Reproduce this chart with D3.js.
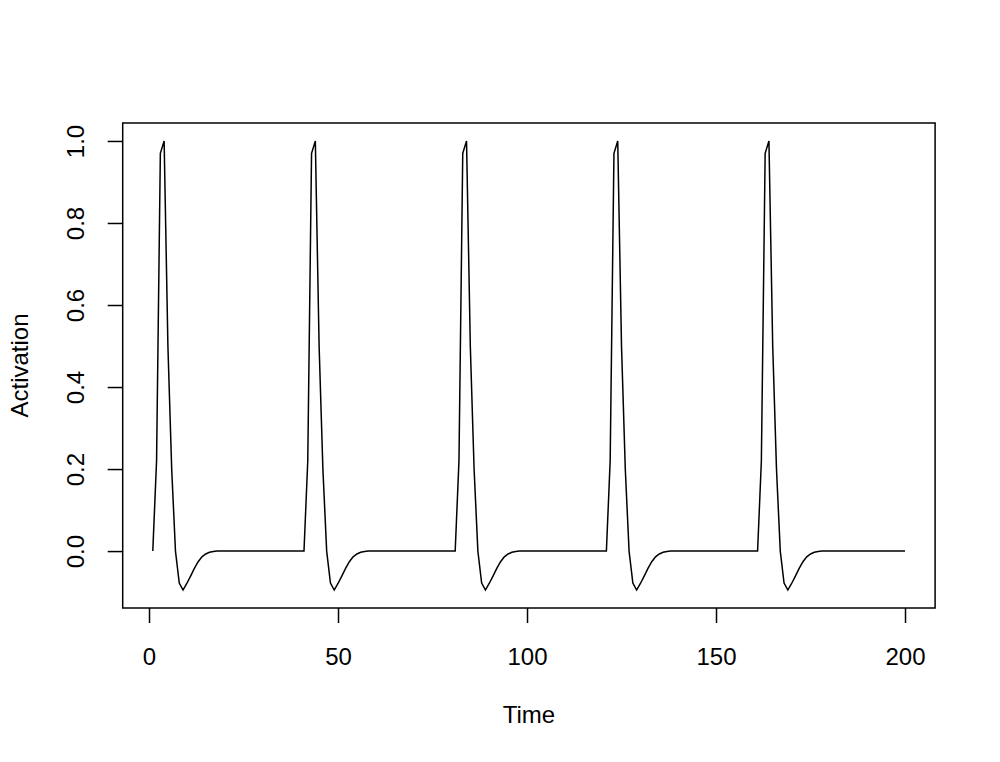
<!DOCTYPE html>
<html lang="en">
	<head>
		<meta charset="UTF-8" />
		<title>Activation over Time</title>
		<script src="https://d3js.org/d3.v7.min.js"></script>
		<style>
			body { margin: 0; background: #fff; }
			text { font-family: "Liberation Sans", Arial, sans-serif; fill: #000; }
		</style>
	</head>
	<body>
		<script>
			var w = 1000;
			var h = 762;

			// time steps 1..200
			var time = d3.range(1, 201);

			// activation, one row per 40-step cycle
			var activation = [
				0, 0.22, 0.97, 1.0, 0.5, 0.2, 0.0, -0.078, -0.095, -0.079, -0.061, -0.042, -0.026, -0.014, -0.007, -0.003, -0.001, 0, 0, 0,
				0, 0, 0, 0, 0, 0, 0, 0, 0, 0, 0, 0, 0, 0, 0, 0, 0, 0, 0, 0,
				0, 0.22, 0.97, 1.0, 0.5, 0.2, 0.0, -0.078, -0.095, -0.079, -0.061, -0.042, -0.026, -0.014, -0.007, -0.003, -0.001, 0, 0, 0,
				0, 0, 0, 0, 0, 0, 0, 0, 0, 0, 0, 0, 0, 0, 0, 0, 0, 0, 0, 0,
				0, 0.22, 0.97, 1.0, 0.5, 0.2, 0.0, -0.078, -0.095, -0.079, -0.061, -0.042, -0.026, -0.014, -0.007, -0.003, -0.001, 0, 0, 0,
				0, 0, 0, 0, 0, 0, 0, 0, 0, 0, 0, 0, 0, 0, 0, 0, 0, 0, 0, 0,
				0, 0.22, 0.97, 1.0, 0.5, 0.2, 0.0, -0.078, -0.095, -0.079, -0.061, -0.042, -0.026, -0.014, -0.007, -0.003, -0.001, 0, 0, 0,
				0, 0, 0, 0, 0, 0, 0, 0, 0, 0, 0, 0, 0, 0, 0, 0, 0, 0, 0, 0,
				0, 0.22, 0.97, 1.0, 0.5, 0.2, 0.0, -0.078, -0.095, -0.079, -0.061, -0.042, -0.026, -0.014, -0.007, -0.003, -0.001, 0, 0, 0,
				0, 0, 0, 0, 0, 0, 0, 0, 0, 0, 0, 0, 0, 0, 0, 0, 0, 0, 0, 0
			];

			var xTicks = [0, 50, 100, 150, 200];
			var yTicks = [0, 0.2, 0.4, 0.6, 0.8, 1.0];
			var xLabel = "Time";
			var yLabel = "Activation";

			// plot region (pixels)
			var plotL = 122.7, plotR = 935.1, plotT = 123, plotB = 608;

			// R-style 4% padding around the data range
			var xExt = d3.extent(time);
			var yExt = d3.extent(activation);
			var xPad = (xExt[1] - xExt[0]) * 0.04;
			var yPad = (yExt[1] - yExt[0]) * 0.04;

			var xScale = d3.scaleLinear()
				.domain([xExt[0] - xPad, xExt[1] + xPad])
				.range([plotL, plotR]);

			var yScale = d3.scaleLinear()
				.domain([yExt[0] - yPad, yExt[1] + yPad])
				.range([plotB, plotT]);

			var svg = d3.select("body")
				.append("svg")
				.attr("width", w)
				.attr("height", h);

			svg.append("rect")
				.attr("width", w)
				.attr("height", h)
				.attr("fill", "#fff");

			// data line
			var line = d3.line()
				.x(function (d, i) { return xScale(time[i]); })
				.y(function (d) { return yScale(d); });

			svg.append("path")
				.datum(activation)
				.attr("d", line)
				.attr("fill", "none")
				.attr("stroke", "#000")
				.attr("stroke-width", 1.5)
				.attr("stroke-linejoin", "miter");

			// box
			svg.append("rect")
				.attr("x", plotL)
				.attr("y", plotT)
				.attr("width", plotR - plotL)
				.attr("height", plotB - plotT)
				.attr("fill", "none")
				.attr("stroke", "#000")
				.attr("stroke-width", 1.5);

			// x axis
			var xAxis = d3.axisBottom(xScale)
				.tickValues(xTicks)
				.tickSize(15)
				.tickPadding(25)
				.tickFormat(d3.format("d"));

			var gx = svg.append("g")
				.attr("transform", "translate(0," + plotB + ")")
				.call(xAxis);
			gx.select(".domain").remove();
			gx.selectAll("line").attr("stroke", "#000").attr("stroke-width", 1.5);
			gx.selectAll("text")
				.attr("font-size", "24px")
				.attr("font-family", "Liberation Sans, Arial, sans-serif")
				.attr("fill", "#000");

			// y axis, labels rotated like R
			var yAxis = d3.axisLeft(yScale)
				.tickValues(yTicks)
				.tickSize(15)
				.tickFormat(d3.format(".1f"));

			var gy = svg.append("g")
				.attr("transform", "translate(" + plotL + ",0)")
				.call(yAxis);
			gy.select(".domain").remove();
			gy.selectAll("line").attr("stroke", "#000").attr("stroke-width", 1.5);
			gy.selectAll("text")
				.attr("x", null)
				.attr("dy", null)
				.attr("font-size", "24px")
				.attr("font-family", "Liberation Sans, Arial, sans-serif")
				.attr("fill", "#000")
				.attr("text-anchor", "middle")
				.attr("transform", "translate(-39,0) rotate(-90)");

			// axis titles
			svg.append("text")
				.attr("x", (plotL + plotR) / 2)
				.attr("y", 723)
				.attr("text-anchor", "middle")
				.attr("font-size", "24px")
				.text(xLabel);

			svg.append("text")
				.attr("transform", "translate(27.5," + (plotT + plotB) / 2 + ") rotate(-90)")
				.attr("text-anchor", "middle")
				.attr("font-size", "24px")
				.text(yLabel);
		</script>
	</body>
</html>
